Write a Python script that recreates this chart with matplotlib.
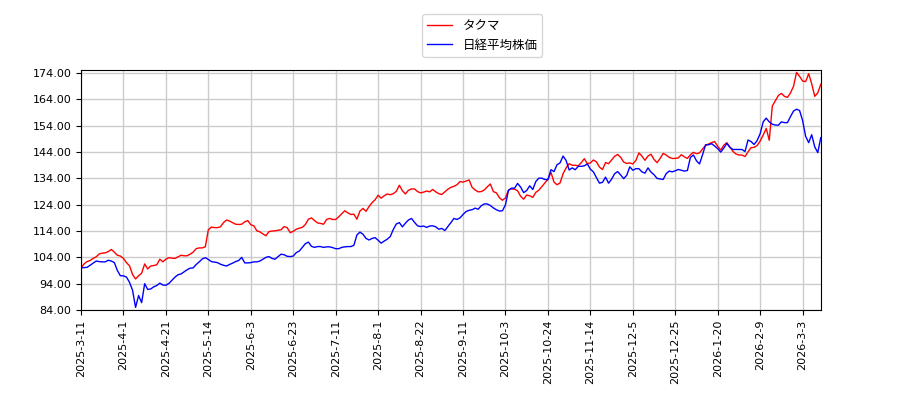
import matplotlib
matplotlib.use('Agg')
import matplotlib.pyplot as plt
import numpy as np

plt.rcParams['font.family'] = ['DejaVu Sans', 'Noto Sans CJK JP']

# タクマ (起点を100として換算)
takuma = [
    100.0, 101.5, 102.4, 102.8, 103.6, 104.2, 105.3, 105.6, 105.7, 106.2,
    107.0, 106.0, 104.8, 104.5, 103.6, 102.0, 100.8, 97.5, 95.8, 97.0,
    98.0, 101.5, 99.6, 100.7, 100.9, 101.2, 103.3, 102.3, 103.3,
    103.9, 103.7, 103.6, 104.2, 104.8, 104.6, 104.6, 105.2, 106.0, 107.3,
    107.6, 107.6, 108.0, 114.5, 115.5, 115.3, 115.3, 115.6, 117.2, 118.2,
    117.8, 117.2, 116.6, 116.5, 116.6, 117.5, 118.0, 116.4,
    116.0, 114.1, 113.7, 112.9, 112.2, 113.8, 114.0, 114.1, 114.3, 114.5,
    115.7, 115.3, 113.4, 113.9, 114.7, 115.1, 115.4, 116.5, 118.5, 119.0,
    118.0, 117.1, 116.9, 116.6, 118.4, 118.8, 118.4, 118.4,
    119.4, 120.6, 121.7, 120.9, 120.3, 120.4, 118.5, 121.6, 122.6, 121.5,
    123.3, 124.8, 125.9, 127.6, 126.5, 127.4, 128.1, 127.8, 128.2, 129.1,
    131.4, 129.3, 128.1, 129.5, 130.0, 130.0, 129.0, 128.5, 128.8,
    129.2, 128.9, 129.8, 128.9, 128.2, 127.9, 128.9, 129.9, 130.6, 131.0,
    131.6, 132.8, 132.6, 133.0, 133.4, 130.6, 129.6, 128.9, 129.0, 129.6,
    130.8, 131.9, 129.0, 128.5, 126.7, 125.7, 126.6, 129.6,
    130.0, 129.9, 129.3, 127.2, 126.1, 127.7, 127.4, 126.8, 128.7, 129.5,
    130.9, 132.3, 133.7, 136.3, 132.6, 131.6, 132.3, 135.8, 138.0, 139.6,
    139.0, 139.0, 138.8, 140.0, 141.5, 139.6, 139.9, 141.0,
    140.3, 138.3, 137.4, 140.0, 139.6, 141.0, 142.4, 143.1, 142.0, 140.2,
    139.7, 139.9, 139.5, 140.8, 143.7, 142.5, 140.9, 142.5, 143.2, 141.2,
    140.0, 141.6, 143.5, 142.9, 142.0, 141.6, 141.6, 141.8,
    143.0, 142.2, 141.6, 143.0, 143.9, 143.4, 143.7, 145.2, 146.5, 147.1,
    147.6, 148.0, 146.2, 144.8, 146.6, 147.6, 146.0, 144.3, 143.3, 142.9,
    142.9, 142.3, 144.1, 145.7, 145.8, 146.5,
    148.2, 150.5, 153.0, 148.5, 161.5, 163.5, 165.5, 166.3, 165.2, 164.8,
    166.5, 169.0, 174.3, 172.8, 171.0, 170.8, 173.8, 170.0, 165.2, 166.5,
    169.8,
]

# 日経平均株価 (起点を100として換算)
nikkei = [
    100.0, 100.1, 100.2, 101.0, 101.8, 102.6, 102.4, 102.3, 102.3, 102.9,
    102.6, 102.0, 99.0, 97.0, 97.0, 96.5, 94.5, 91.5, 85.0, 89.5,
    86.8, 94.0, 91.8, 92.0, 92.8, 93.3, 94.2, 93.5, 93.4,
    94.1, 95.3, 96.5, 97.4, 97.7, 98.5, 99.3, 99.9, 100.0, 101.3,
    102.3, 103.4, 103.9, 103.2, 102.4, 102.2, 102.0, 101.4, 101.0, 100.7,
    101.3, 101.8, 102.4, 102.8, 104.0, 101.9, 101.9, 102.0,
    102.3, 102.3, 102.6, 103.3, 104.0, 104.3, 103.6, 103.3, 104.3, 105.2,
    105.0, 104.4, 104.3, 104.5, 105.8, 106.4, 107.8, 109.2, 109.8, 108.2,
    107.8, 108.1, 108.1, 107.8, 108.0, 108.0, 107.7, 107.3,
    107.3, 107.8, 108.0, 108.1, 108.1, 108.6, 112.5, 113.6, 112.8, 111.2,
    110.6, 111.2, 111.5, 110.5, 109.4, 110.2, 110.9, 111.9, 114.6, 116.7,
    117.2, 115.6, 117.0, 118.2, 118.8, 117.3, 116.0, 115.7, 115.9,
    115.4, 115.9, 116.0, 115.6, 114.7, 115.0, 114.2, 115.7, 117.2, 118.8,
    118.4, 119.0, 120.3, 121.4, 121.9, 122.1, 122.7, 122.3, 123.6, 124.3,
    124.3, 123.7, 122.8, 122.1, 121.6, 121.7, 124.0, 129.5,
    130.3, 130.3, 132.1, 130.7, 128.6, 129.4, 131.2, 129.8, 132.8, 134.1,
    134.1, 133.6, 133.5, 137.3, 136.6, 139.2, 139.9, 142.5, 140.8, 137.2,
    138.0, 137.3, 138.6, 138.6, 138.8, 139.5, 137.5, 136.5,
    134.3, 132.2, 132.5, 134.5, 132.2, 133.7, 135.8, 136.6, 135.3, 133.9,
    135.2, 138.4, 137.1, 137.7, 137.7, 136.5, 136.0, 138.0, 136.4, 135.4,
    134.0, 133.8, 133.6, 135.8, 136.8, 136.5, 136.9, 137.4,
    137.1, 136.8, 137.0, 142.0, 142.9, 140.7, 139.5, 143.0, 146.8, 146.8,
    147.2, 146.3, 145.3, 144.0, 145.5, 147.3, 145.8, 145.0, 145.0, 145.0,
    145.0, 144.2, 148.6, 148.0, 146.9, 148.4,
    151.0, 155.5, 156.9, 155.5, 154.6, 154.3, 154.2, 155.5, 155.2, 155.2,
    157.5, 159.6, 160.3, 159.8, 156.0, 150.0, 147.6, 150.6, 146.0, 143.8,
    149.5,
]

# 14営業日ごとの日付ラベル
fechas = ['2025-3-11', '2025-4-1', '2025-4-21', '2025-5-14', '2025-6-3',
          '2025-6-23', '2025-7-11', '2025-8-1', '2025-8-22', '2025-9-11',
          '2025-10-3', '2025-10-24', '2025-11-14', '2025-12-5', '2025-12-25',
          '2026-1-20', '2026-2-9', '2026-3-3']

y_ticks = [84, 94, 104, 114, 124, 134, 144, 154, 164, 174]

x = np.arange(len(takuma))

fig = plt.figure(figsize=(9, 4), dpi=100)
ax = fig.add_axes([0.09, 0.225, 0.822, 0.60])

ax.plot(x, takuma, color='red', linewidth=1, label='タクマ')
ax.plot(x, nikkei, color='blue', linewidth=1, label='日経平均株価')

ax.set_xlim(0, len(takuma) - 1)
ax.set_ylim(84, 175.2)
ax.set_xticks(np.arange(0, len(takuma), 14)[:len(fechas)])
ax.set_xticklabels(fechas, rotation=90, fontsize=8)
ax.set_yticks(y_ticks)
ax.set_yticklabels([f'{v:.2f}' for v in y_ticks], fontsize=8)
ax.grid(True, color='#cccccc', linewidth=1)
ax.set_axisbelow(True)

fig.legend(loc='upper center', bbox_to_anchor=(0.536, 0.98),
           prop={'family': ['Noto Sans CJK JP', 'DejaVu Sans'], 'size': 9})

plt.savefig('out.png', dpi=100)
plt.close()
